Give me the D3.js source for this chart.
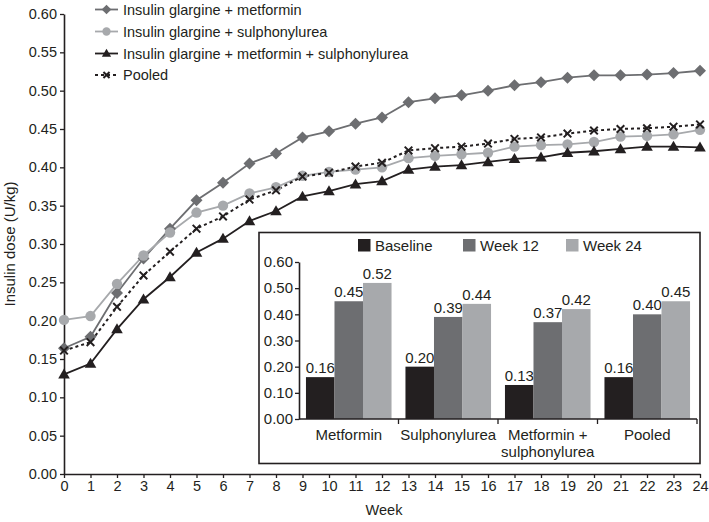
<!DOCTYPE html>
<html>
<head>
<meta charset="utf-8">
<script src="https://cdn.jsdelivr.net/npm/d3@7"></script>
<style>
  html, body { margin: 0; padding: 0; background: #fff; }
  svg { display: block; font-family: "Liberation Sans", Arial, Helvetica, sans-serif; }
</style>
</head>
<body>
<svg id="chart" width="709" height="522"></svg>
<script>
// ---------------- DATA ----------------
const weeks = [0,1,2,3,4,5,6,7,8,9,10,11,12,13,14,15,16,17,18,19,20,21,22,23,24];
const seriesNames = [
  "Insulin glargine + metformin",
  "Insulin glargine + sulphonylurea",
  "Insulin glargine + metformin + sulphonylurea",
  "Pooled"
];
const metformin = [0.164,0.179,0.236,0.281,0.320,0.357,0.380,0.405,0.418,0.439,0.447,0.457,0.465,0.485,0.490,0.494,0.500,0.507,0.511,0.517,0.520,0.520,0.521,0.523,0.526];
const sulphonylurea = [0.201,0.206,0.248,0.285,0.315,0.341,0.350,0.366,0.374,0.389,0.394,0.397,0.400,0.412,0.415,0.417,0.419,0.427,0.429,0.430,0.433,0.440,0.441,0.443,0.449];
const metSulph = [0.130,0.144,0.189,0.228,0.257,0.289,0.307,0.330,0.343,0.362,0.369,0.378,0.382,0.397,0.401,0.403,0.407,0.411,0.413,0.419,0.421,0.424,0.427,0.427,0.426];
const pooled = [0.161,0.172,0.218,0.259,0.290,0.320,0.336,0.358,0.370,0.388,0.393,0.401,0.406,0.422,0.425,0.427,0.431,0.437,0.439,0.444,0.448,0.450,0.451,0.453,0.456];
const yTicks = [0,0.05,0.10,0.15,0.20,0.25,0.30,0.35,0.40,0.45,0.50,0.55,0.60];

const insetCategories = ["Metformin", "Sulphonylurea", "Metformin +\nsulphonylurea", "Pooled"];
const insetGroups = ["Baseline", "Week 12", "Week 24"];
const baseline = [0.16, 0.20, 0.13, 0.16];
const week12 = [0.45, 0.39, 0.37, 0.40];
const week24 = [0.52, 0.44, 0.42, 0.45];
const insetTicks = [0,0.1,0.2,0.3,0.4,0.5,0.6];

// ---------------- STYLE ----------------
const ink = "#231f20";
const series = [
  {name: seriesNames[0], values: metformin, color: "#6d6e71", marker: "diamond", dash: null},
  {name: seriesNames[1], values: sulphonylurea, color: "#a7a9ac", marker: "circle", dash: null},
  {name: seriesNames[2], values: metSulph, color: ink, marker: "triangle", dash: null},
  {name: seriesNames[3], values: pooled, color: ink, marker: "x", dash: "3,3"}
];
const barColors = [ink, "#6d6e71", "#a7a9ac"];

const svg = d3.select("#chart");

// ---------------- MAIN CHART ----------------
const x = d3.scaleLinear().domain([0, 24]).range([64, 700]);
const y = d3.scaleLinear().domain([0, 0.6]).range([474, 14]);

function markerPath(type, k) {
  k = k || 1;
  if (type === "diamond") { const r = 6 * k; return `M0,${-r}L${r},0L0,${r}L${-r},0Z`; }
  if (type === "triangle") { const w = 5.8 * k; return `M0,${-5.8*k}L${w},${4.2*k}L${-w},${4.2*k}Z`; }
  if (type === "x") { const r = 3.8 * k; return `M${-r},${-r}L${r},${r}M${-r},${r}L${r},${-r}`; }
  return null;
}
function drawMarker(g, type, color, k) {
  k = k || 1;
  if (type === "circle") {
    g.append("circle").attr("r", 5.2 * k).attr("fill", color);
  } else if (type === "x") {
    g.append("path").attr("d", markerPath(type, k)).attr("stroke", color).attr("stroke-width", 2).attr("fill", "none");
  } else {
    g.append("path").attr("d", markerPath(type, k)).attr("fill", color);
  }
}

// axes
const yAxis = d3.axisLeft(y).tickValues(yTicks).tickFormat(d3.format(".2f")).tickSize(4).tickSizeOuter(0).tickPadding(3);
const yG = svg.append("g").attr("transform", "translate(64,0)").call(yAxis);
const xAxis = d3.axisBottom(x).tickValues(weeks).tickFormat(d3.format("d")).tickSize(4).tickSizeOuter(0).tickPadding(3);
const xG = svg.append("g").attr("transform", "translate(0,474)").call(xAxis);
[yG, xG].forEach(g => {
  g.select(".domain").attr("stroke", ink).attr("stroke-width", 1.6);
  g.selectAll(".tick line").attr("stroke", ink).attr("stroke-width", 1.3);
  g.selectAll(".tick text").attr("fill", ink).attr("font-size", 14.5).attr("font-family", "Liberation Sans, Arial, sans-serif");
});

svg.append("text").attr("x", 384).attr("y", 515).attr("text-anchor", "middle")
  .attr("font-size", 14.5).attr("fill", ink).text("Week");
svg.append("text").attr("transform", "translate(15,244) rotate(-90)").attr("text-anchor", "middle")
  .attr("font-size", 15).attr("fill", ink).text("Insulin dose (U/kg)");

// lines
const line = d3.line().x((d, i) => x(weeks[i])).y(d => y(d));
series.forEach(s => {
  svg.append("path").datum(s.values).attr("d", line)
    .attr("fill", "none").attr("stroke", s.color).attr("stroke-width", s.dash ? 2 : 1.8)
    .attr("stroke-dasharray", s.dash);
});
// markers drawn after lines
series.forEach(s => {
  s.values.forEach((v, i) => {
    const g = svg.append("g").attr("transform", `translate(${x(weeks[i])},${y(v)})`);
    drawMarker(g, s.marker, s.color, 1);
  });
});

// legend
const legRows = [9.5, 31.5, 53.5, 75];
series.forEach((s, i) => {
  const gy = legRows[i];
  svg.append("line").attr("x1", 95).attr("x2", 118).attr("y1", gy).attr("y2", gy)
    .attr("stroke", s.color).attr("stroke-width", s.dash ? 2 : 1.8).attr("stroke-dasharray", s.dash);
  const g = svg.append("g").attr("transform", `translate(106.5,${gy})`);
  drawMarker(g, s.marker, s.color, 0.8);
  svg.append("text").attr("x", 123).attr("y", gy + 5).attr("font-size", 14.5).attr("fill", ink).text(s.name);
});

// ---------------- INSET ----------------
svg.append("rect").attr("x", 259).attr("y", 232.5).attr("width", 441).attr("height", 231)
  .attr("fill", "#fff").attr("stroke", ink).attr("stroke-width", 1.6);

const ix = d3.scaleBand().domain(insetCategories).range([299, 697]).paddingInner(0.14).paddingOuter(0.07);
const ixSub = d3.scaleBand().domain(insetGroups).range([0, ix.bandwidth()]).padding(0);
const iy = d3.scaleLinear().domain([0, 0.6]).range([419, 262]);

const iyAxis = d3.axisLeft(iy).tickValues(insetTicks).tickFormat(d3.format(".2f")).tickSize(4).tickSizeOuter(0).tickPadding(2);
const iyG = svg.append("g").attr("transform", "translate(299,0)").call(iyAxis);
iyG.select(".domain").attr("stroke", ink).attr("stroke-width", 1.6);
iyG.selectAll(".tick line").attr("stroke", ink).attr("stroke-width", 1.3);
iyG.selectAll(".tick text").attr("fill", ink).attr("font-size", 15).attr("font-family", "Liberation Sans, Arial, sans-serif");

// bars
const insetValues = [baseline, week12, week24];
insetCategories.forEach((c, ci) => {
  insetGroups.forEach((gname, gi) => {
    const v = insetValues[gi][ci];
    const bx = ix(c) + ixSub(gname);
    svg.append("rect").attr("x", bx).attr("y", iy(v)).attr("width", ixSub.bandwidth())
      .attr("height", iy(0) - iy(v)).attr("fill", barColors[gi]);
    svg.append("text").attr("x", bx + ixSub.bandwidth() / 2).attr("y", iy(v) - 4)
      .attr("text-anchor", "middle").attr("font-size", 15).attr("fill", ink).text(d3.format(".2f")(v));
  });
});

// inset x axis
const step = ix.step();
const ix0 = 299;
svg.append("line").attr("x1", 299).attr("x2", 697).attr("y1", 419).attr("y2", 419)
  .attr("stroke", ink).attr("stroke-width", 1.6);
insetCategories.forEach((c, ci) => {
  const tx = ix0 + step * (ci + 1);
  svg.append("line").attr("x1", tx).attr("x2", tx).attr("y1", 419).attr("y2", 424)
    .attr("stroke", ink).attr("stroke-width", 1.3);
  const lines = c.split("\n");
  const t = svg.append("text").attr("text-anchor", "middle").attr("font-size", 15).attr("fill", ink);
  lines.forEach((ln, li) => {
    t.append("tspan").attr("x", ix(c) + ix.bandwidth() / 2).attr("y", 440 + li * 16.5).text(ln);
  });
});

// inset legend
const legX = [358, 463, 566];
insetGroups.forEach((gname, gi) => {
  svg.append("rect").attr("x", legX[gi]).attr("y", 239).attr("width", 12.5).attr("height", 12.5).attr("fill", barColors[gi]);
  svg.append("text").attr("x", legX[gi] + 17).attr("y", 250.5).attr("font-size", 15).attr("fill", ink).text(gname);
});
</script>
</body>
</html>
